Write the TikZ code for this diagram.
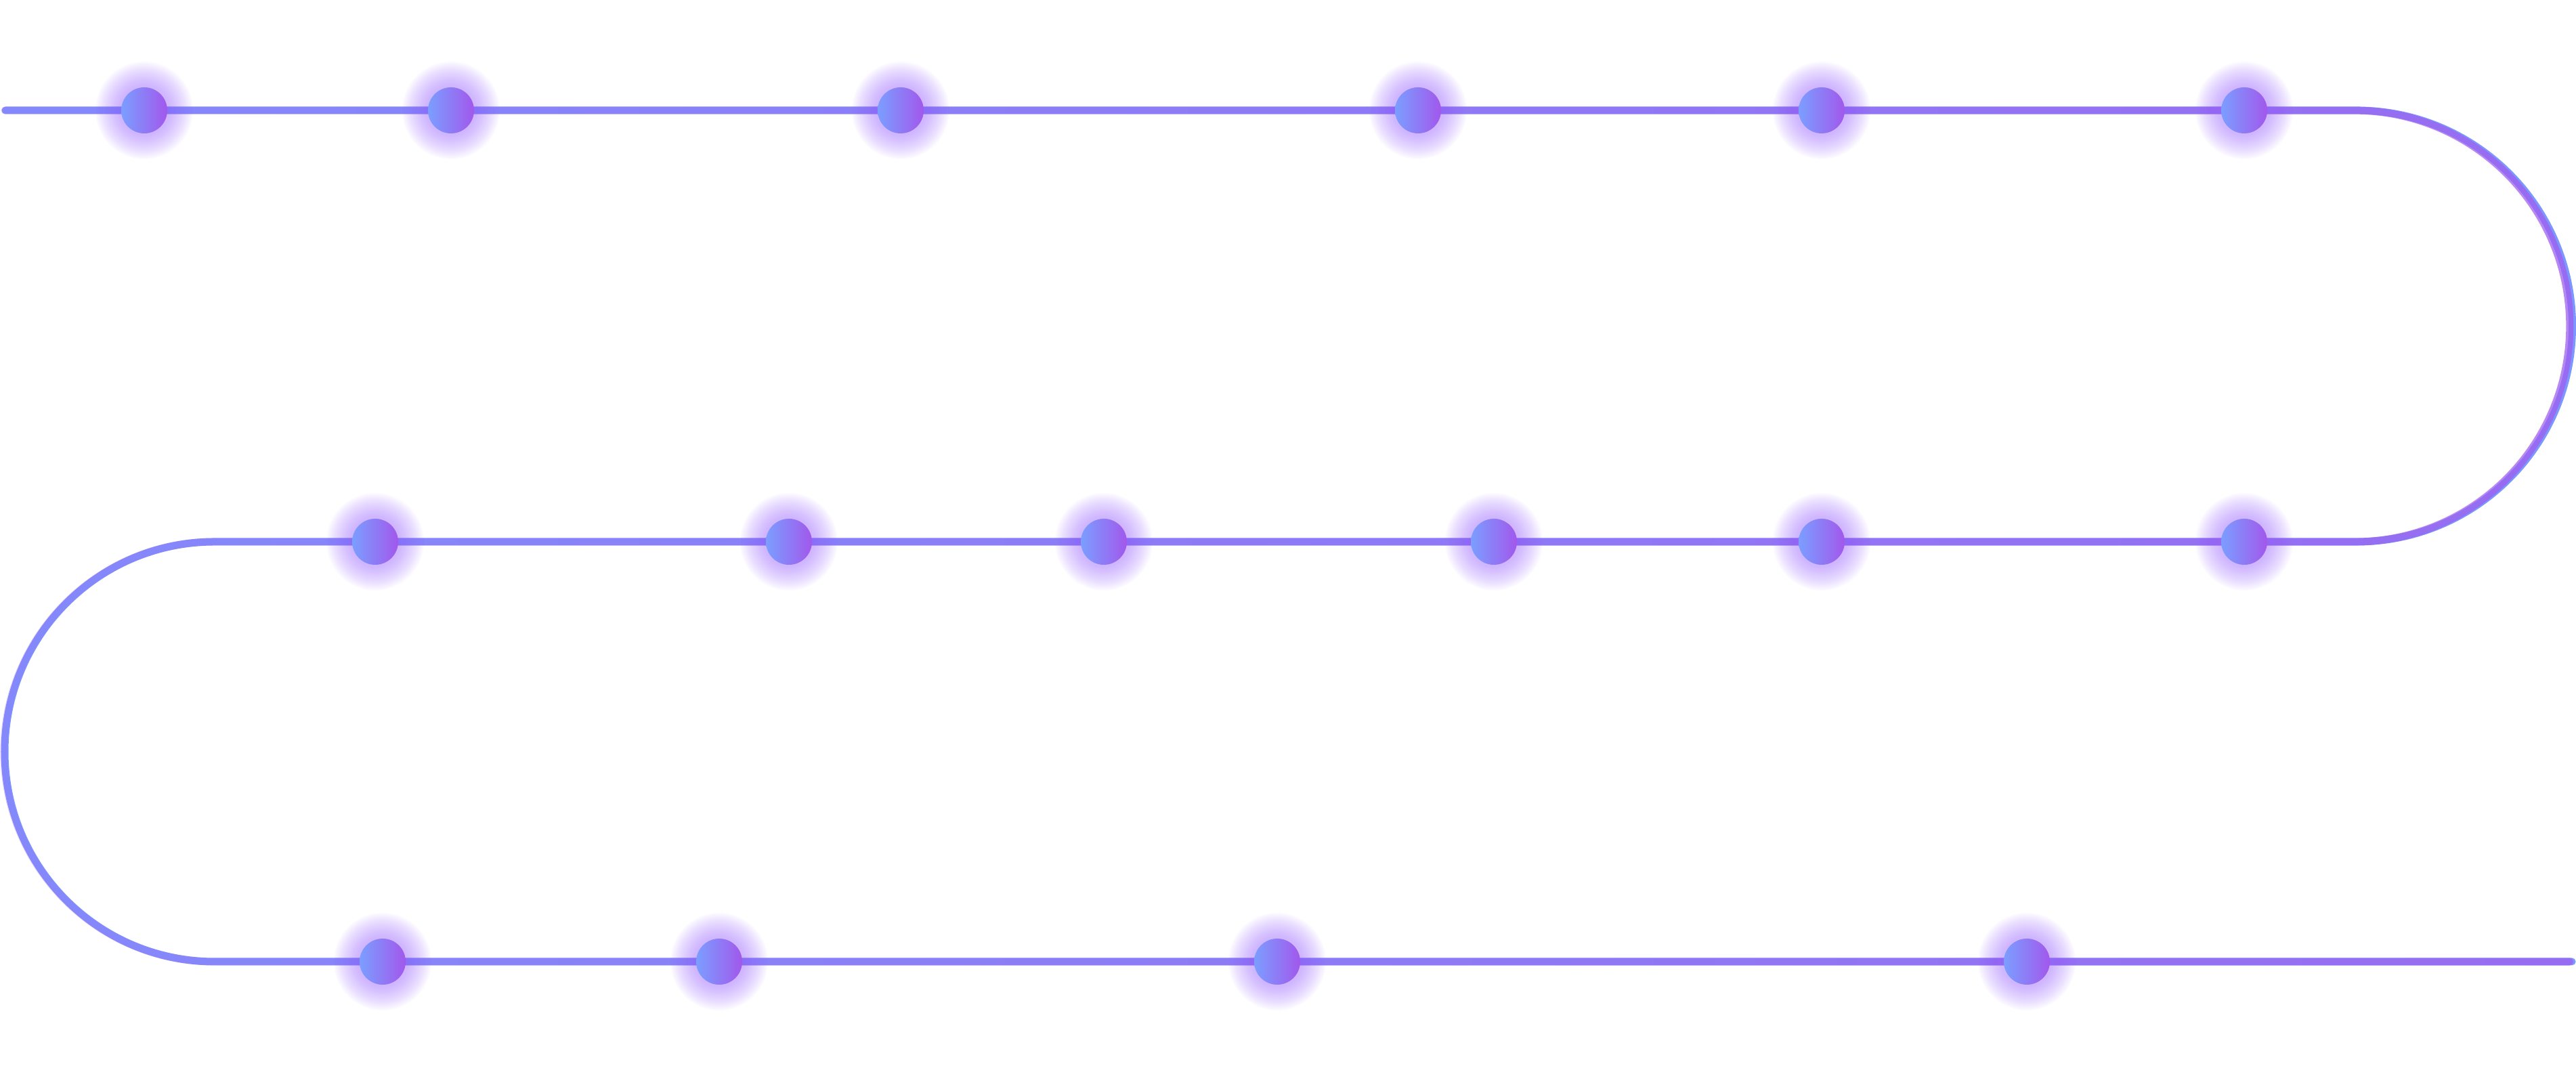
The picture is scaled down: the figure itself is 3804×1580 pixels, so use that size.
\documentclass[tikz,border=0pt]{standalone}
\usepackage{tikz}
\usetikzlibrary{fadings}

\definecolor{lineblue}{HTML}{7C97FF}
\definecolor{linepurple}{HTML}{A05FEE}
\definecolor{dotblue}{HTML}{7B9EFF}
\definecolor{dotpurple}{HTML}{A258EC}
\definecolor{glowpurple}{HTML}{9A66FF}

\pgfdeclarehorizontalshading{lrshade}{100bp}{color(0bp)=(black); color(100bp)=(white)}
\pgfdeclarefading{lrfade}{\pgfuseshading{lrshade}}

\begin{document}
\begin{tikzpicture}[x=0.01cm,y=0.01cm,line cap=round]
  \tikzstyle{dot}=[circle,minimum size=0.68cm,inner sep=0pt,draw=none,
                   left color=dotblue,right color=dotpurple]
  \tikzstyle{glow}=[fill=glowpurple,opacity=0.035]
  \tikzstyle{track}=[line width=0.11cm,draw=lineblue,
                     postaction={draw=linepurple,line width=0.11cm,path fading=lrfade}]

  \useasboundingbox (0,0) rectangle (3804,1580);

  \coordinate (start)  at (8,1417);
  \coordinate (turnA)  at (3480,1417);
  \coordinate (turnB)  at (317,780);
  \coordinate (finish) at (3798,160);

  \draw[track] (start) -- (turnA) arc[start angle=90,end angle=-90,radius=318.5]
               -- (turnB) arc[start angle=90,end angle=270,radius=310] -- (finish);

  \foreach \name/\x/\y in {A/213/1417, B/666/1417, C/1330/1417, D/2094/1417, E/2690/1417, F/3314/1417,
                           G/3314/780, H/2690/780, I/2206/780, J/1630/780, K/1165/780, L/554/780,
                           M/565/160, N/1062/160, O/1886/160, P/2993/160}
  {
    \foreach \r in {38,40,...,72}
      \fill[glow] (\x,\y) circle (\r);
    \node[dot] (\name) at (\x,\y) {};
  }
\end{tikzpicture}
\end{document}
